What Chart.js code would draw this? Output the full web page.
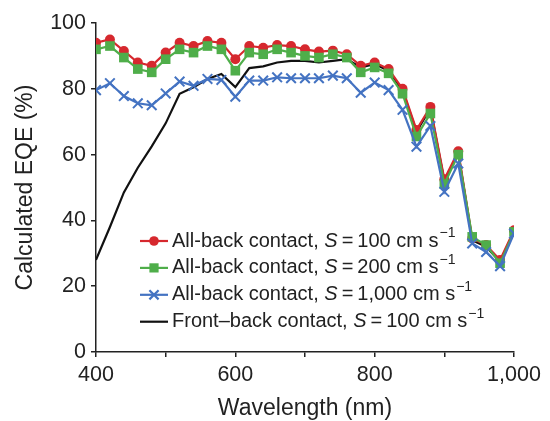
<!DOCTYPE html>
<html>
<head>
<meta charset="utf-8">
<script src="https://cdn.jsdelivr.net/npm/chart.js@4/dist/chart.umd.min.js"></script>
<style>
	body { margin: 0; background: #fff; }
	#eqeChart { display: block; }
</style>
</head>
<body>
<canvas id="eqeChart" width="550" height="421"></canvas>
<script>
// wavelengths (nm)
var wavelengths = [400, 420, 440, 460, 480, 500, 520, 540, 560, 580, 600, 620, 640, 660, 680, 700,
	720, 740, 760, 780, 800, 820, 840, 860, 880, 900, 920, 940, 960, 980, 1000];

// calculated EQE (%)
var allBack100 = [94, 95, 91.5, 88, 87, 91, 94, 93, 94.5, 94, 89, 93, 92.5, 93.3, 93, 92,
	91.3, 91.6, 90.5, 87, 88, 86, 80, 67.5, 74.5, 52.5, 61, 34.5, 32.5, 28, 37];
var allBack200 = [92, 93, 89.5, 86, 85, 89, 92, 91, 93, 92, 85.5, 91, 90.5, 92, 91, 90,
	89.5, 90.5, 89.5, 85, 86.5, 84.7, 78.5, 65.5, 72.5, 51, 60, 35, 32.5, 27, 36.5];
var allBack1000 = [79.6, 81.7, 77.8, 75.6, 75, 78.6, 82.2, 80.9, 83, 82.7, 77.6, 82.5, 82.5, 83.5, 83.2, 83.2,
	83.2, 84, 83.2, 78.8, 81.9, 79.6, 73.6, 62.4, 68.7, 48.7, 57.3, 33, 30.4, 26.1, 36];
var frontBack100 = [28, 38, 48.5, 56, 62.5, 69.5, 78.5, 80.5, 83, 84.5, 80.5, 86.3, 86.8, 88, 88.5, 88.5,
	88, 88.5, 89, 86.5, 87.5, 85.5, 79.5, 67, 74, 52, 60.5, 34, 32, 27.5, 36.5];

var xTickValues = [400, 600, 800, 1000];
var xTickLabels = ['400', '600', '800', '1,000'];

var legendPrefix = ['All-back contact, ', 'All-back contact, ', 'All-back contact, ', 'Front\u2013back contact, '];
var legendS = ['100', '200', '1,000', '100'];

var RED = '#d6282e', GREEN = '#4fae4a', BLUE = '#4473c2', BLACK = '#111';
var FONT = '"Liberation Sans", Arial, sans-serif';

function pts(arr) {
	return wavelengths.map(function (w, i) { return { x: w, y: arr[i] }; });
}

// legend with italic S and superscript, drawn on the canvas
var eqeLegend = {
	id: 'eqeLegend',
	afterDraw: function (chart) {
		var ctx = chart.ctx;
		var area = chart.chartArea;
		var styles = [
			{ color: RED, marker: 'circle' },
			{ color: GREEN, marker: 'square' },
			{ color: BLUE, marker: 'cross' },
			{ color: BLACK, marker: null }
		];
		ctx.save();
		for (var i = 0; i < 4; i++) {
			var y = area.bottom - 111 + i * 26.9;
			var x = area.left + 44;
			var st = styles[i];
			ctx.strokeStyle = st.color;
			ctx.fillStyle = st.color;
			ctx.lineWidth = 2.2;
			ctx.beginPath();
			ctx.moveTo(x, y);
			ctx.lineTo(x + 28, y);
			ctx.stroke();
			var cx = x + 14;
			if (st.marker === 'circle') {
				ctx.beginPath();
				ctx.arc(cx, y, 4.8, 0, Math.PI * 2);
				ctx.fill();
			} else if (st.marker === 'square') {
				ctx.fillRect(cx - 4.6, y - 4.6, 9.2, 9.2);
			} else if (st.marker === 'cross') {
				ctx.beginPath();
				ctx.moveTo(cx - 4.6, y - 4.6); ctx.lineTo(cx + 4.6, y + 4.6);
				ctx.moveTo(cx - 4.6, y + 4.6); ctx.lineTo(cx + 4.6, y - 4.6);
				ctx.stroke();
			}
			var tx = x + 32;
			ctx.fillStyle = '#222';
			ctx.textBaseline = 'middle';
			ctx.textAlign = 'left';
			ctx.font = '20px ' + FONT;
			ctx.fillText(legendPrefix[i], tx, y);
			tx += ctx.measureText(legendPrefix[i]).width;
			ctx.font = 'italic 20px ' + FONT;
			ctx.fillText('S', tx, y);
			tx += ctx.measureText('S').width;
			ctx.font = '20px ' + FONT;
			var rest = '\u2009=\u2009' + legendS[i] + ' cm s';
			ctx.fillText(rest, tx, y);
			tx += ctx.measureText(rest).width + 1;
			ctx.font = '14px ' + FONT;
			ctx.fillText('\u22121', tx, y - 8);
		}
		ctx.restore();
	}
};

var ctx = document.getElementById('eqeChart').getContext('2d');
var chart = new Chart(ctx, {
	type: 'line',
	data: {
		datasets: [{
			label: 'All-back contact, S = 1,000 cm s-1',
			data: pts(allBack1000),
			borderColor: BLUE,
			backgroundColor: BLUE,
			borderWidth: 2.2,
			pointStyle: 'crossRot',
			pointRadius: 6.8,
			pointBorderWidth: 2,
			order: 0
		}, {
			label: 'All-back contact, S = 200 cm s-1',
			data: pts(allBack200),
			borderColor: GREEN,
			backgroundColor: GREEN,
			borderWidth: 2.2,
			pointStyle: 'rect',
			pointRadius: 6.8,
			pointBorderWidth: 0,
			order: 1
		}, {
			label: 'All-back contact, S = 100 cm s-1',
			data: pts(allBack100),
			borderColor: RED,
			backgroundColor: RED,
			borderWidth: 2.2,
			pointStyle: 'circle',
			pointRadius: 5,
			pointBorderWidth: 0,
			order: 2
		}, {
			label: 'Front-back contact, S = 100 cm s-1',
			data: pts(frontBack100),
			borderColor: BLACK,
			borderWidth: 2.2,
			pointRadius: 0,
			order: 3
		}]
	},
	options: {
		responsive: false,
		animation: false,
		layout: { padding: { top: 23, right: 36, left: 0, bottom: 0 } },
		plugins: {
			legend: { display: false },
			tooltip: { enabled: false }
		},
		scales: {
			x: {
				type: 'linear',
				min: 400,
				max: 1000,
				afterFit: function (scale) { scale.height = 69; },
				ticks: {
					stepSize: 100,
					autoSkip: false,
					maxRotation: 0,
					padding: 5,
					color: '#222',
					font: { family: FONT, size: 21.5 },
					callback: function (v) {
						var k = xTickValues.indexOf(v);
						return k >= 0 ? xTickLabels[k] : '';
					}
				},
				grid: { drawOnChartArea: false, drawTicks: true, tickLength: 5, tickColor: '#222', lineWidth: 1.5 },
				border: { color: '#222', width: 1.5 },
				title: {
					display: true,
					text: 'Wavelength (nm)',
					color: '#222',
					font: { family: FONT, size: 23, lineHeight: 1 },
					padding: { top: 0, bottom: 1 }
				}
			},
			y: {
				min: 0,
				max: 100,
				afterFit: function (scale) { scale.width = 96; },
				ticks: {
					stepSize: 20,
					padding: 5,
					color: '#222',
					font: { family: FONT, size: 21.5 }
				},
				grid: { drawOnChartArea: false, drawTicks: true, tickLength: 5, tickColor: '#222', lineWidth: 1.5 },
				border: { color: '#222', width: 1.5 },
				title: {
					display: true,
					text: 'Calculated EQE (%)',
					color: '#222',
					font: { family: FONT, size: 23, lineHeight: 1 },
					padding: { top: 14, bottom: 0 }
				}
			}
		}
	},
	plugins: [eqeLegend]
});
</script>
</body>
</html>
